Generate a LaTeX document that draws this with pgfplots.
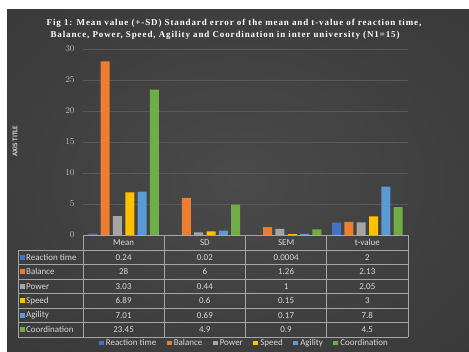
\documentclass[border=0pt]{standalone}
\usepackage{fontspec}
\setmainfont{Carlito}
\newfontfamily\titlefont[LetterSpace=10]{Liberation Serif}
\usepackage{pgfplots}
\usepackage{pgfplotstable}
\pgfplotsset{compat=1.18}

% Office-style series colours
\definecolor{cRT}{HTML}{4472C4}
\definecolor{cBal}{HTML}{ED7D31}
\definecolor{cPow}{HTML}{A5A5A5}
\definecolor{cSpd}{HTML}{FFC000}
\definecolor{cAgi}{HTML}{5B9BD5}
\definecolor{cCoo}{HTML}{70AD47}
% chart furniture
\definecolor{txt}{HTML}{D9D9D9}
\definecolor{tickc}{HTML}{BFBFBF}
\definecolor{gridc}{HTML}{595959}
\definecolor{rulec}{HTML}{A6A6A6}
\definecolor{bgin}{HTML}{4A4A4A}
\definecolor{bgout}{HTML}{282828}

\pgfdeclareradialshading{chartbg}{\pgfpoint{0bp}{0bp}}{color(0bp)=(bgin); color(72bp)=(bgout)}

% one row per statistic, one column per variable
\pgfplotstableread{
stat rt     bal  pow  spd  agi  coo
0    0.24   28   3.03 6.89 7.01 23.45
1    0.02   6    0.44 0.6  0.69 4.9
2    0.0004 1.26 1    0.15 0.17 0.9
3    2      2.13 2.05 3    7.8  4.5
}\stats

\pgfplotsset{sq legend/.style={legend image code/.code={%
  \fill[##1] (0bp,-2.4bp) rectangle (4.8bp,2.4bp);}}}

\begin{document}
\begin{tikzpicture}[x=1bp,y=1bp]
\fill[white] (0,0) rectangle (469,351);
\shade[shading=chartbg] (7,0) rectangle (469,341);

\node[text=white] at (234,328) {\titlefont\bfseries\fontsize{9}{10}\selectfont Fig 1: Mean value (+-SD) Standard error of the mean and t-value of reaction time,};
\node[text=white] at (225,316) {\titlefont\bfseries\fontsize{9}{10}\selectfont Balance, Power, Speed, Agility and Coordination in inter university (N1=15)};

\begin{axis}[
  at={(83bp,116bp)}, anchor=south west,
  scale only axis, width=325bp, height=186bp,
  xmin=-0.5, xmax=3.5, ymin=0, ymax=30,
  ybar=3.3bp, bar width=9bp,
  xtick=\empty, ytick={0,5,...,30},
  ymajorgrids, grid style={color=gridc, line width=0.7bp},
  axis line style={draw=none}, major tick length=0pt,
  yticklabel style={font=\fontsize{8.8}{9}\selectfont, text=tickc, xshift=-5bp},
  ylabel={AXIS TITLE},
  ylabel style={at={(axis description cs:-0.209,0.505)}, anchor=center,
    font=\bfseries\fontsize{7.2}{8}\selectfont, text=txt},
  legend columns=-1,
  legend style={at={(axis description cs:0.495,-0.581)}, anchor=center,
    draw=none, fill=none, text=txt, font=\fontsize{9}{9}\selectfont,
    nodes={inner sep=1bp},
    /tikz/every odd column/.append style={column sep=1.2bp},
    /tikz/every even column/.append style={column sep=9.5bp}},
]
\addplot[fill=cRT, draw=none, sq legend] table[x=stat, y=rt] {\stats};
\addplot[fill=cBal, draw=none, sq legend] table[x=stat, y=bal] {\stats};
\addplot[fill=cPow, draw=none, sq legend] table[x=stat, y=pow] {\stats};
\addplot[fill=cSpd, draw=none, sq legend] table[x=stat, y=spd] {\stats};
\addplot[fill=cAgi, draw=none, sq legend] table[x=stat, y=agi] {\stats};
\addplot[fill=cCoo, draw=none, sq legend] table[x=stat, y=coo] {\stats};
\legend{Reaction time, Balance, Power, Speed, Agility, Coordination}
\end{axis}

% data table under the bars
\begin{scope}[draw=rulec, line width=0.7bp]
  \draw (83,116) -- (408,116);
  \foreach \yy in {101,86.5,72,57.5,43,28.5,14} \draw (18,\yy) -- (408,\yy);
  \draw (18,101) -- (18,14);
  \foreach \xx in {83,164.25,245.5,326.75,408} \draw (\xx,116) -- (\xx,14);
\end{scope}
\foreach \h [count=\j from 0] in {Mean,SD,SEM,t-value}
  \node[text=txt, font=\fontsize{9}{9}\selectfont] at ({123.6+81.25*\j},108.5) {\h};
\foreach \col/\name/\clr [count=\r from 0] in
  {rt/Reaction time/cRT, bal/Balance/cBal, pow/Power/cPow,
   spd/Speed/cSpd, agi/Agility/cAgi, coo/Coordination/cCoo} {
  \pgfmathsetmacro\yc{93.75-14.5*\r}
  \fill[\clr] (20,\yc-2.4) rectangle (24.8,\yc+2.4);
  \node[anchor=west, inner sep=0pt, text=txt, font=\fontsize{9}{9}\selectfont] at (26,\yc) {\name};
  \foreach \j in {0,...,3} {
    \pgfplotstablegetelem{\j}{\col}\of\stats
    \node[text=txt, font=\fontsize{9}{9}\selectfont] at ({123.6+81.25*\j},\yc) {\pgfplotsretval};
  }
}
\end{tikzpicture}
\end{document}
